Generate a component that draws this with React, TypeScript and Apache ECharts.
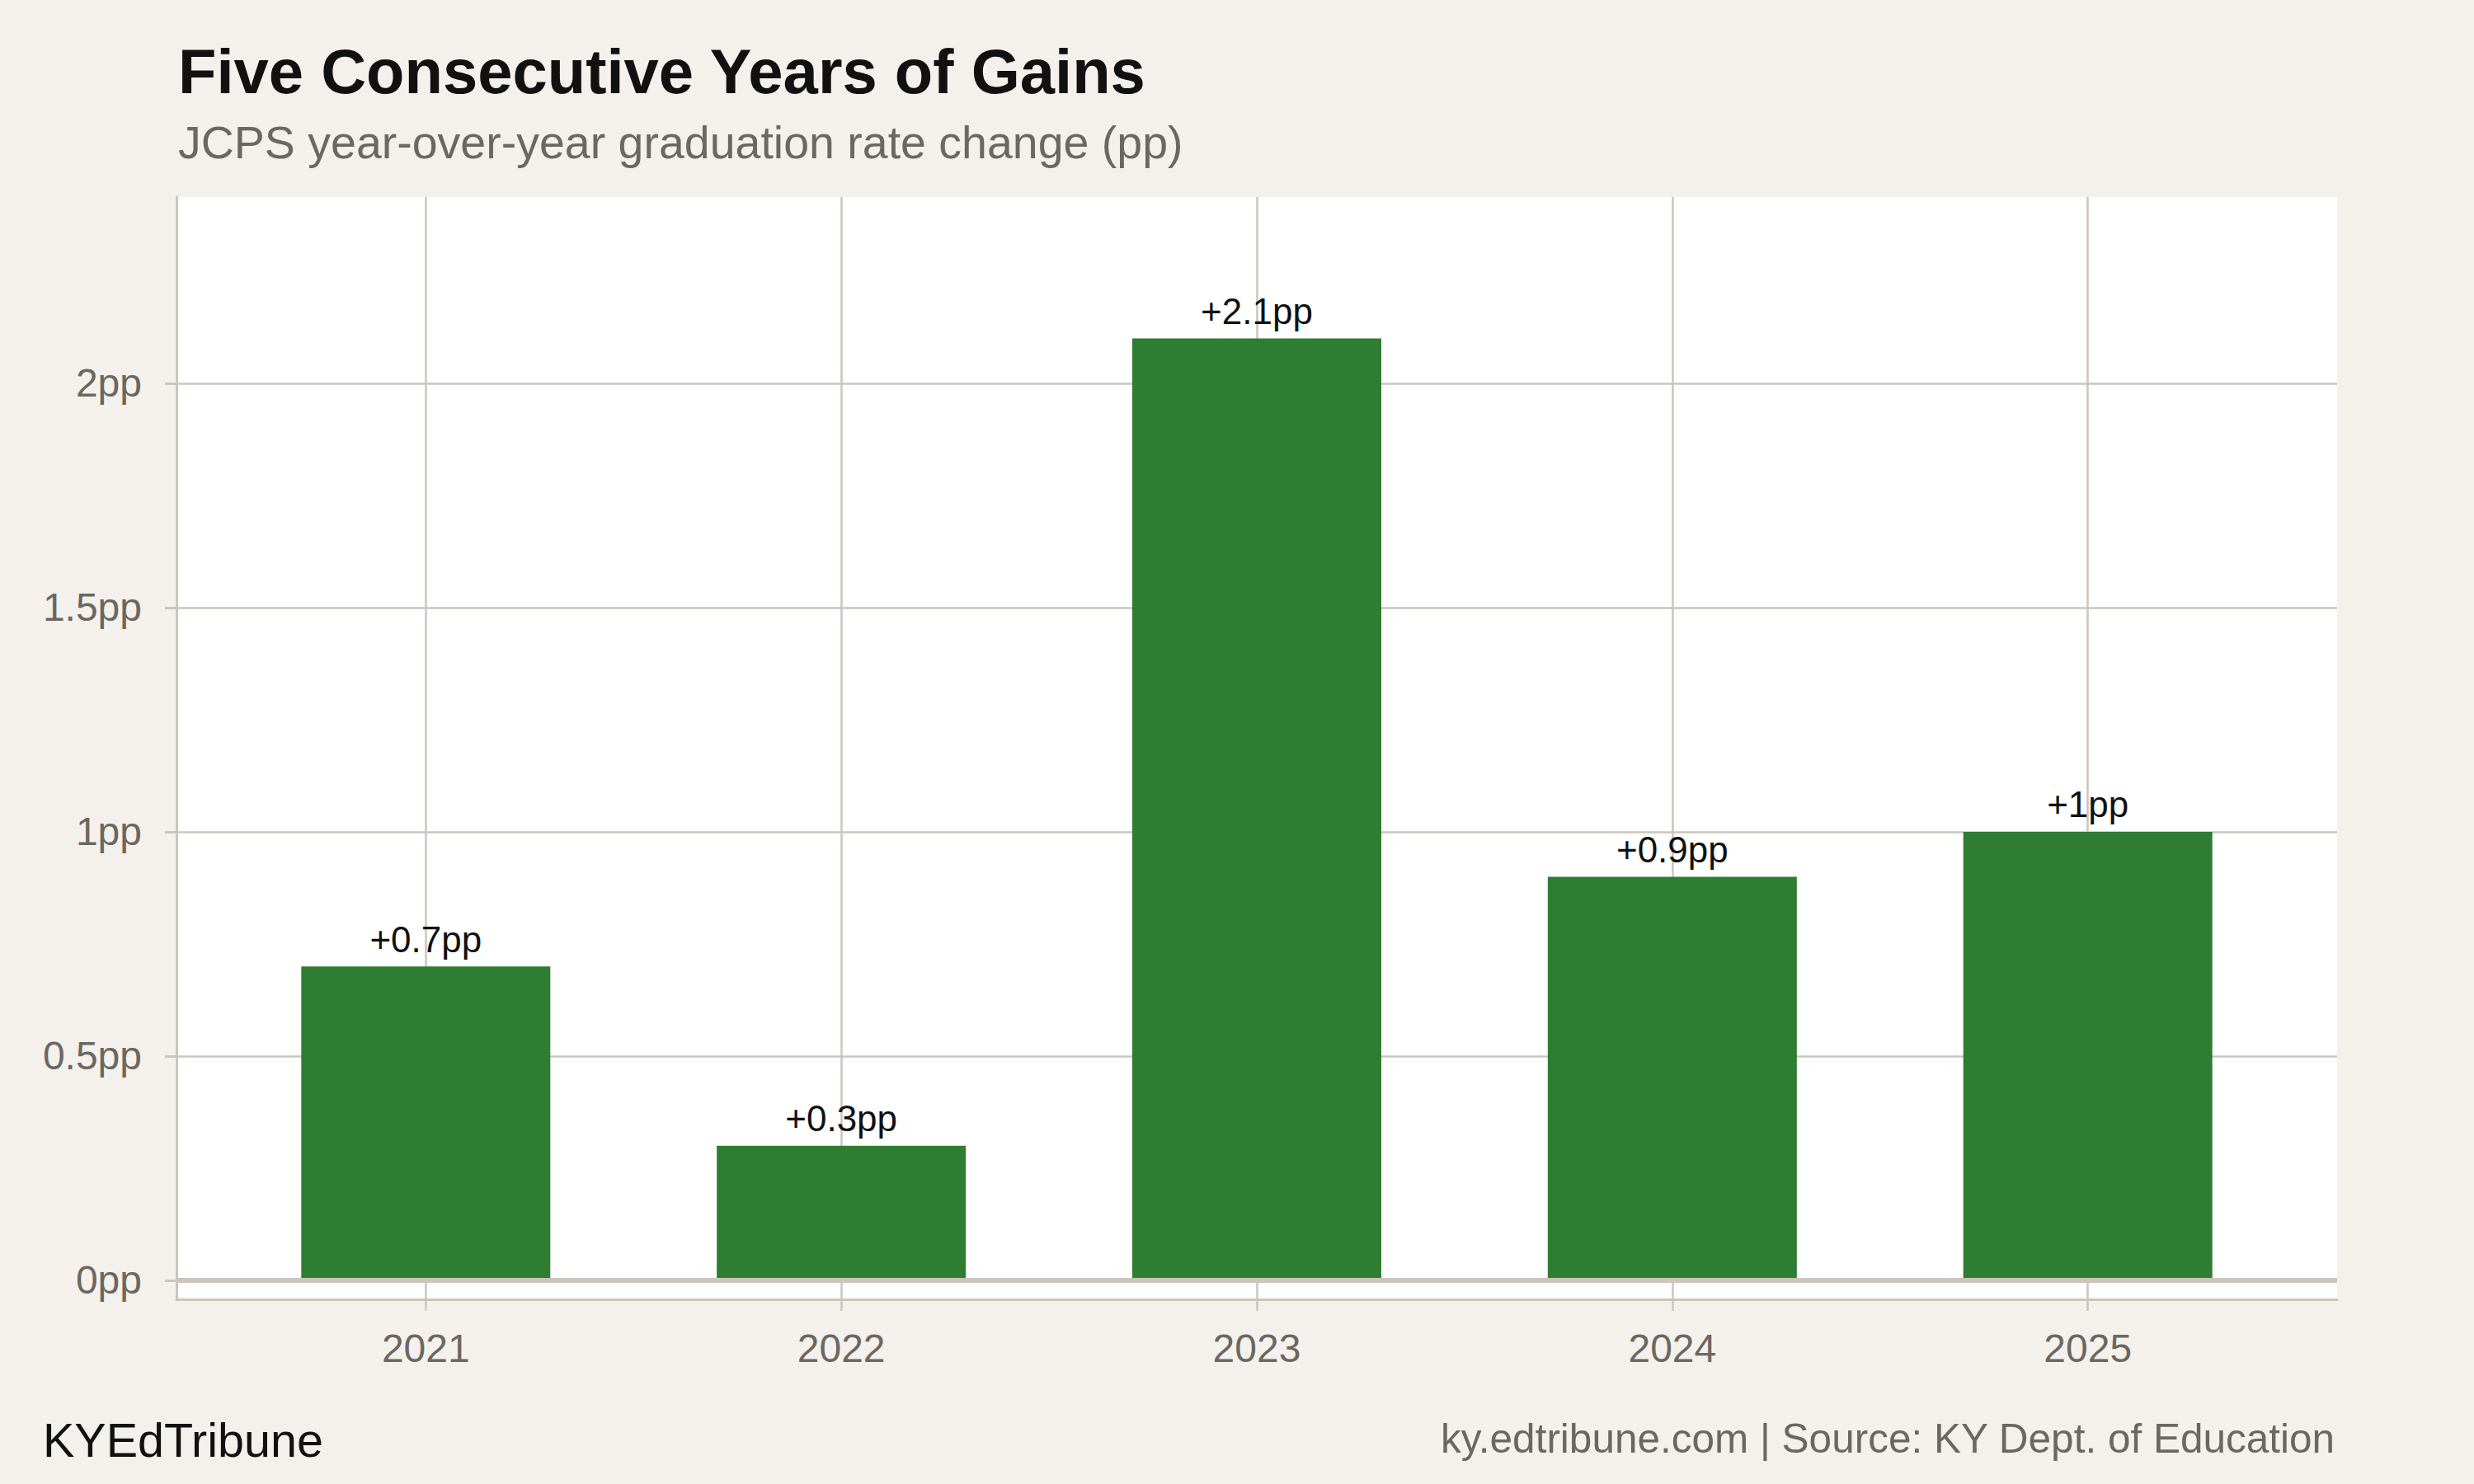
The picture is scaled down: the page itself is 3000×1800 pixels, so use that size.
import React, { useEffect, useRef } from "react";
import * as echarts from "echarts";

const years = [2021, 2022, 2023, 2024, 2025];
const changes = [0.7, 0.3, 2.1, 0.9, 1.0];
const yTicks = [0, 0.5, 1, 1.5, 2];

const TITLE = "Five Consecutive Years of Gains";
const SUBTITLE = "JCPS year-over-year graduation rate change (pp)";
const BRAND = "KYEdTribune";
const SOURCE = "ky.edtribune.com | Source: KY Dept. of Education";

const BG = "#f4f1ec";
const GRID = "#cbc5bc";
const GREY = "#6b6761";
const GREEN = "#2e7d32";
const FONT = "'Liberation Sans', Arial, Helvetica, sans-serif";

export default function App() {
  const ref = useRef<HTMLDivElement>(null);
  useEffect(() => {
    document.body.style.margin = "0";
    document.body.style.background = BG;
    if (!ref.current) return;
    const chart = echarts.init(ref.current, null, { renderer: "svg" });
    const option: any = {
      animation: false,
      backgroundColor: BG,
      textStyle: { fontFamily: FONT },
      title: [
        {
          text: TITLE,
          left: 216,
          top: 48,
          padding: 0,
          textStyle: { fontSize: 76, fontWeight: "bold", color: "#111111", fontFamily: FONT, lineHeight: 76 },
        },
        {
          text: SUBTITLE,
          left: 216,
          top: 145,
          padding: 0,
          textStyle: { fontSize: 55.5, fontWeight: "normal", color: GREY, fontFamily: FONT, lineHeight: 55.5 },
        },
        {
          text: BRAND,
          left: 52,
          top: 1718,
          padding: 0,
          textStyle: { fontSize: 57.5, fontWeight: "normal", color: "#111111", fontFamily: FONT, lineHeight: 57.5 },
        },
        {
          text: SOURCE,
          right: 168,
          top: 1720,
          padding: 0,
          textStyle: { fontSize: 49.5, fontWeight: "normal", color: GREY, fontFamily: FONT, lineHeight: 49.5 },
        },
      ],
      grid: {
        left: 214,
        right: 166,
        top: 239,
        bottom: 224,
        show: true,
        backgroundColor: "#ffffff",
        borderWidth: 0,
        containLabel: false,
      },
      xAxis: {
        type: "value",
        min: 2020.4,
        max: 2025.6,
        axisLine: { show: true, onZero: false, lineStyle: { color: GRID, width: 3 } },
        axisTick: { show: true, length: 14, customValues: years, lineStyle: { color: GRID, width: 2.5 } },
        axisLabel: {
          show: true,
          customValues: years,
          formatter: (v: number) => String(v),
          margin: 35,
          fontSize: 48,
          color: GREY,
          fontFamily: FONT,
        },
        splitLine: { show: true, lineStyle: { color: GRID, width: 2.5 } },
      },
      yAxis: {
        type: "value",
        min: -0.0423,
        max: 2.4154,
        axisLine: { show: true, onZero: false, lineStyle: { color: GRID, width: 3 } },
        axisTick: { show: true, length: 14, customValues: yTicks, lineStyle: { color: GRID, width: 3 } },
        axisLabel: {
          show: true,
          customValues: yTicks,
          formatter: (v: number) => `${v}pp`,
          margin: 42,
          fontSize: 48,
          color: GREY,
          fontFamily: FONT,
        },
        splitLine: { show: true, lineStyle: { color: GRID, width: 2.5 } },
      },
      series: [
        {
          type: "bar",
          data: years.map((y, i) => [y, changes[i]]),
          barWidth: 302,
          itemStyle: { color: GREEN },
          label: {
            show: true,
            position: "top",
            distance: 11,
            formatter: (p: any) => `+${p.value[1]}pp`,
            fontSize: 44,
            color: "#111111",
            fontFamily: FONT,
          },
          markLine: {
            silent: true,
            symbol: ["none", "none"],
            label: { show: false },
            lineStyle: { color: GRID, width: 6, type: "solid" },
            data: [{ yAxis: 0 }],
          },
        },
      ],
    };
    chart.setOption(option);
    return () => chart.dispose();
  }, []);
  return <div ref={ref} style={{ width: 3000, height: 1800 }} />;
}
